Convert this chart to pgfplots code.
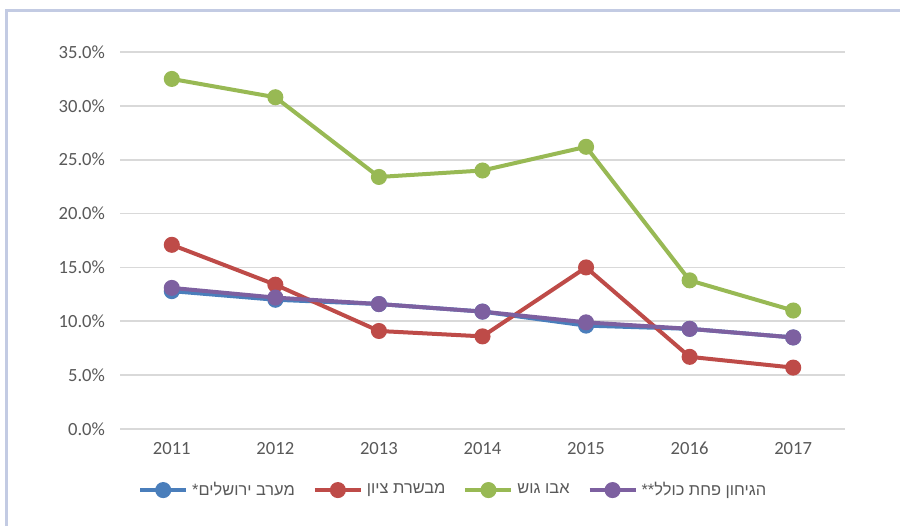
\documentclass[border=0pt]{standalone}
\usepackage{fontspec}
\setmainfont{Carlito}
\newfontfamily\hebfont[Script=Hebrew]{Liberation Sans}
\TeXXeTstate=1
\usepackage{pgfplots}
\pgfplotsset{compat=1.18}
\definecolor{cblue}{HTML}{4A7EBB}
\definecolor{cred}{HTML}{BE4B48}
\definecolor{cgreen}{HTML}{98B954}
\definecolor{cpurple}{HTML}{7D60A0}
\definecolor{cgrid}{HTML}{D9D9D9}
\definecolor{ctext}{HTML}{595959}
\definecolor{cframe}{HTML}{C3CBE3}
\begin{document}
\begin{tikzpicture}
\useasboundingbox (0pt,0pt) rectangle (450pt,263pt);
\fill[white] (0pt,0pt) rectangle (450pt,263pt);
\draw[cframe,line width=1.5pt] (3pt,0pt) -- (3pt,257.5pt) -- (450pt,257.5pt);
\begin{axis}[
  at={(60pt,48.5pt)}, anchor=south west,
  scale only axis, width=362.5pt, height=188.5pt,
  xmin=2010.5, xmax=2017.5, ymin=0, ymax=35,
  axis line style={draw=none},
  xtick={2011,...,2017},
  xticklabel style={/pgf/number format/1000 sep={}},
  ytick={0,5,...,35},
  yticklabel={\pgfmathprintnumber[fixed,fixed zerofill,precision=1]{\tick}\%},
  /pgf/number format/assume math mode=true,
  ymajorgrids, grid style={cgrid,line width=0.8pt},
  tick style={draw=none},
  tick label style={font=\fontsize{9.3}{10}\selectfont, text=ctext},
  yticklabel style={xshift=-4pt},
  xticklabel style={yshift=-3pt},
  every axis plot/.append style={line width=2pt, mark=*, mark size=3pt},
  legend columns=4,
  legend style={draw=none, fill=none, at={(0.461,-0.162)}, anchor=center,
    font=\hebfont\fontsize{8.2}{10}\selectfont, text=ctext,
    /tikz/every even column/.append style={column sep=7pt}},
  legend image code/.code={\draw[mark repeat=2,mark phase=2,#1] plot coordinates {(0pt,0pt)(11.5pt,0pt)(23pt,0pt)};},
]
\addplot[cblue, mark options={fill=cblue}] coordinates {(2011,12.8)(2012,12.0)(2013,11.6)(2014,10.9)(2015,9.6)(2016,9.3)(2017,8.5)};
\addlegendentry{\beginR מערב ירושלים*\endR}
\addplot[cred, mark options={fill=cred}] coordinates {(2011,17.1)(2012,13.4)(2013,9.1)(2014,8.6)(2015,15.0)(2016,6.7)(2017,5.7)};
\addlegendentry{\beginR מבשרת ציון\endR}
\addplot[cgreen, mark options={fill=cgreen}] coordinates {(2011,32.5)(2012,30.8)(2013,23.4)(2014,24.0)(2015,26.2)(2016,13.8)(2017,11.0)};
\addlegendentry{\beginR אבו גוש\endR}
\addplot[cpurple, mark options={fill=cpurple}] coordinates {(2011,13.1)(2012,12.2)(2013,11.6)(2014,10.9)(2015,9.9)(2016,9.3)(2017,8.5)};
\addlegendentry{\beginR הגיחון פחת כולל**\endR}
\end{axis}
\end{tikzpicture}
\end{document}
